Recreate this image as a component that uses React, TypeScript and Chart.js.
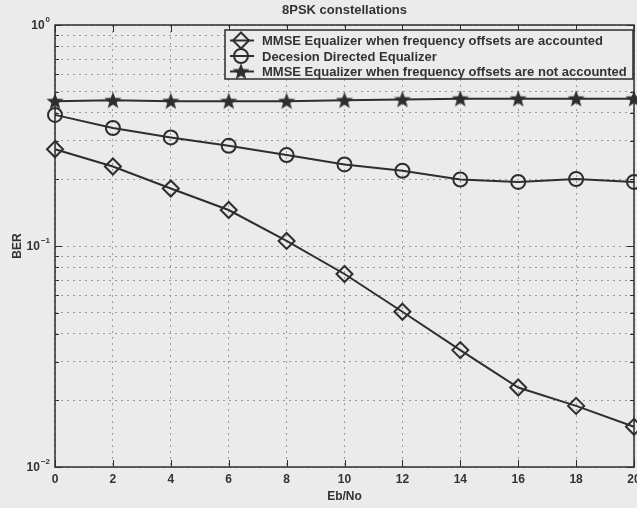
import React, { useEffect, useRef } from "react";
import { Chart, registerables } from "chart.js";

Chart.register(...registerables);

const ebNo = [0, 2, 4, 6, 8, 10, 12, 14, 16, 18, 20];
const mmseAccounted = [0.274, 0.229, 0.182, 0.1455, 0.1054, 0.0747, 0.0504, 0.0338, 0.0229, 0.0189, 0.0152];
const decisionDirected = [0.392, 0.342, 0.31, 0.284, 0.258, 0.234, 0.219, 0.2, 0.195, 0.201, 0.195];
const mmseNotAccounted = [0.452, 0.456, 0.452, 0.452, 0.452, 0.456, 0.46, 0.464, 0.464, 0.464, 0.464];
const seriesNames = [
  "MMSE Equalizer when frequency offsets are accounted",
  "Decesion Directed Equalizer",
  "MMSE Equalizer when frequency offsets are not accounted",
];
const yTickExps = [0, -1, -2];
const xTicks = [0, 2, 4, 6, 8, 10, 12, 14, 16, 18, 20];
const titleText = "8PSK constellations";
const xLabel = "Eb/No";
const yLabel = "BER";

const BG = "#ebebeb";
const INK = "#2e2e2e";
const FONT = "'Liberation Sans', Arial, sans-serif";

function makeStar(): HTMLCanvasElement {
  const c = document.createElement("canvas");
  c.width = 20;
  c.height = 20;
  const g = c.getContext("2d")!;
  g.fillStyle = INK;
  g.beginPath();
  for (let i = 0; i < 10; i++) {
    const r = i % 2 === 0 ? 9 : 3.8;
    const a = -Math.PI / 2 + (i * Math.PI) / 5;
    const px = 10 + r * Math.cos(a);
    const py = 10.5 + r * Math.sin(a);
    if (i === 0) g.moveTo(px, py);
    else g.lineTo(px, py);
  }
  g.closePath();
  g.fill();
  return c;
}

export default function App() {
  const ref = useRef<HTMLCanvasElement>(null);
  useEffect(() => {
    document.body.style.margin = "0";
    document.body.style.background = BG;
    const star = makeStar();
    const styles: any[] = ["rectRot", "circle", star];
    const radii = [8, 7, 8];

    const drawMarker = (ctx: CanvasRenderingContext2D, i: number, x: number, y: number) => {
      if (i === 2) {
        ctx.drawImage(star, x - 10, y - 10);
        return;
      }
      ctx.save();
      ctx.strokeStyle = INK;
      ctx.lineWidth = 2;
      ctx.beginPath();
      if (i === 0) {
        ctx.moveTo(x, y - 8);
        ctx.lineTo(x + 8, y);
        ctx.lineTo(x, y + 8);
        ctx.lineTo(x - 8, y);
        ctx.closePath();
      } else {
        ctx.arc(x, y, 7, 0, Math.PI * 2);
      }
      ctx.stroke();
      ctx.restore();
    };

    const decor = {
      id: "decor",
      beforeDraw(chart: any) {
        const ctx = chart.ctx as CanvasRenderingContext2D;
        ctx.save();
        ctx.fillStyle = BG;
        ctx.fillRect(0, 0, chart.width, chart.height);
        ctx.restore();
      },
      afterDraw(chart: any) {
        const ctx = chart.ctx as CanvasRenderingContext2D;
        const a = chart.chartArea;
        const xs = chart.scales.x;
        const ys = chart.scales.y;
        ctx.save();
        // box
        ctx.strokeStyle = INK;
        ctx.lineWidth = 1.5;
        ctx.strokeRect(a.left, a.top, a.right - a.left, a.bottom - a.top);
        // x tick marks
        ctx.lineWidth = 1;
        for (const t of xTicks) {
          const px = Math.round(xs.getPixelForValue(t)) + 0.5;
          ctx.beginPath();
          ctx.moveTo(px, a.bottom);
          ctx.lineTo(px, a.bottom - 7);
          ctx.moveTo(px, a.top);
          ctx.lineTo(px, a.top + 7);
          ctx.stroke();
        }
        // y tick marks
        for (let e = -2; e <= 0; e++) {
          for (let m = 1; m <= 9; m++) {
            const v = m * Math.pow(10, e);
            if (v > 1.0001) break;
            const py = Math.round(ys.getPixelForValue(v)) + 0.5;
            const len = m === 1 ? 7 : 4;
            ctx.beginPath();
            ctx.moveTo(a.left, py);
            ctx.lineTo(a.left + len, py);
            ctx.moveTo(a.right, py);
            ctx.lineTo(a.right - len, py);
            ctx.stroke();
          }
        }
        // tick labels
        ctx.fillStyle = "#333";
        ctx.font = `bold 12px ${FONT}`;
        ctx.textAlign = "center";
        ctx.textBaseline = "top";
        for (const t of xTicks) {
          ctx.fillText(String(t), xs.getPixelForValue(t), a.bottom + 7);
        }
        for (const e of yTickExps) {
          const py = ys.getPixelForValue(Math.pow(10, e));
          ctx.textBaseline = "middle";
          const expStr = e === 0 ? "0" : "\u2212" + String(-e);
          ctx.font = `bold 8px ${FONT}`;
          const ew = ctx.measureText(expStr).width;
          const expRight = 50;
          ctx.textAlign = "left";
          ctx.fillText(expStr, expRight - ew, py - 5);
          ctx.font = `bold 12px ${FONT}`;
          ctx.textAlign = "right";
          ctx.fillText("10", expRight - ew - 1, py + 1);
        }
        // title & axis labels
        ctx.font = `bold 13px ${FONT}`;
        ctx.textAlign = "center";
        ctx.textBaseline = "middle";
        ctx.fillText(titleText, (a.left + a.right) / 2, 10);
        ctx.font = `bold 12px ${FONT}`;
        ctx.fillText(xLabel, (a.left + a.right) / 2, 497);
        ctx.save();
        ctx.translate(18, (a.top + a.bottom) / 2);
        ctx.rotate(-Math.PI / 2);
        ctx.fillText(yLabel, 0, 0);
        ctx.restore();
        // legend
        const lx = 225, ly = 30, lw = 408, lh = 49;
        ctx.fillStyle = BG;
        ctx.fillRect(lx, ly, lw, lh);
        ctx.strokeStyle = INK;
        ctx.lineWidth = 1.5;
        ctx.strokeRect(lx, ly, lw, lh);
        ctx.font = `bold 13px ${FONT}`;
        ctx.textAlign = "left";
        ctx.textBaseline = "middle";
        for (let i = 0; i < 3; i++) {
          const cy = ly + 10.5 + i * 15.5;
          ctx.strokeStyle = INK;
          ctx.lineWidth = 2;
          ctx.beginPath();
          ctx.moveTo(lx + 5, cy);
          ctx.lineTo(lx + 29, cy);
          ctx.stroke();
          drawMarker(ctx, i, lx + 16, cy);
          ctx.fillStyle = "#333";
          ctx.fillText(seriesNames[i], lx + 37, cy + 1);
        }
        ctx.restore();
      },
    };

    const mk = (label: string, data: number[], i: number) => ({
      label,
      data: ebNo.map((x, k) => ({ x, y: data[k] })),
      borderColor: INK,
      backgroundColor: "rgba(0,0,0,0)",
      borderWidth: 2,
      pointStyle: styles[i],
      pointRadius: radii[i],
      pointBorderWidth: 2,
      pointBorderColor: INK,
      pointBackgroundColor: "rgba(0,0,0,0)",
      tension: 0,
      clip: false,
    });

    const chart = new Chart(ref.current!, {
      type: "line",
      data: {
        datasets: [
          mk(seriesNames[0], mmseAccounted, 0),
          mk(seriesNames[1], decisionDirected, 1),
          mk(seriesNames[2], mmseNotAccounted, 2),
        ],
      },
      options: {
        responsive: false,
        animation: false,
        layout: { autoPadding: false, padding: { top: 25, right: 3, left: 0, bottom: 0 } },
        plugins: { legend: { display: false }, title: { display: false }, tooltip: { enabled: false } },
        scales: {
          x: {
            type: "linear",
            min: 0,
            max: 20,
            ticks: { display: false, stepSize: 2 },
            grid: { color: "#9a9a9a", lineWidth: 1, drawTicks: false },
            border: { display: false, dash: [2, 4] },
            afterFit: (s: any) => {
              s.height = 41;
            },
          },
          y: {
            type: "logarithmic",
            min: 0.01,
            max: 1,
            ticks: { display: false },
            grid: { color: "#9a9a9a", lineWidth: 1, drawTicks: false },
            border: { display: false, dash: [2, 4] },
            afterBuildTicks: (s: any) => {
              const t: any[] = [];
              for (let e = -2; e <= 0; e++) {
                for (let m = 1; m <= 9; m++) {
                  const v = m * Math.pow(10, e);
                  if (v > 1.0001) break;
                  t.push({ value: v, major: m === 1 });
                }
              }
              s.ticks = t;
            },
            afterFit: (s: any) => {
              s.width = 55;
            },
          },
        },
      } as any,
      plugins: [decor],
    });
    return () => chart.destroy();
  }, []);

  return (
    <div style={{ width: 637, height: 508, background: BG }}>
      <canvas ref={ref} width={637} height={508} style={{ display: "block" }} />
    </div>
  );
}
